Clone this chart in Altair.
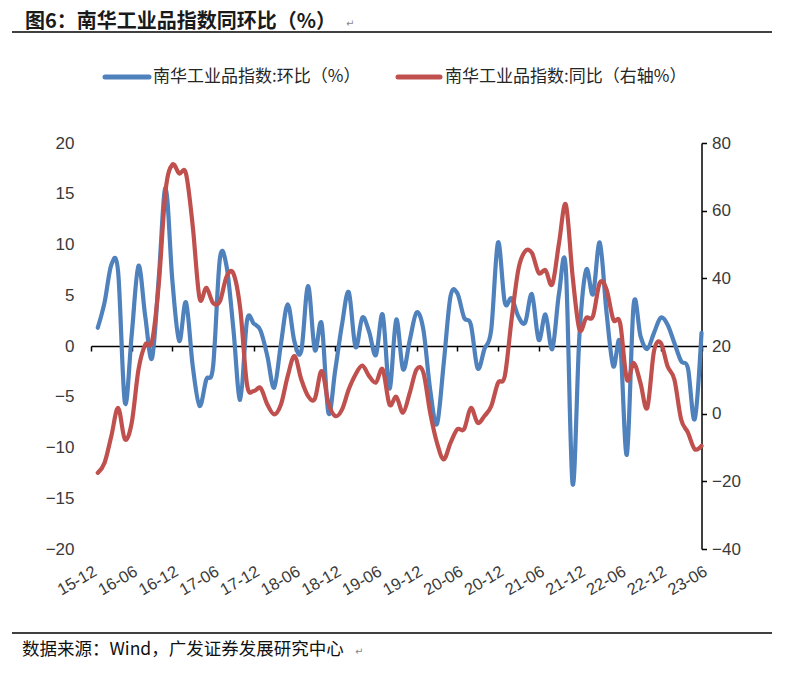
import json
import altair as alt
import pandas as pd

# ---------------- data ----------------
series_names = ["南华工业品指数:环比（%）", "南华工业品指数:同比（右轴%）"]
series_colors = ["#4f81bd", "#c0504d"]

# month categories 15-12 ... 23-06
months = []
yy, mm = 2015, 12
for _ in range(91):
    months.append(f"{yy % 100:02d}-{mm:02d}")
    mm += 1
    if mm > 12:
        mm = 1
        yy += 1

tick_labels = ["15-12", "16-06", "16-12", "17-06", "17-12", "18-06", "18-12", "19-06",
               "19-12", "20-06", "20-12", "21-06", "21-12", "22-06", "22-12", "23-06"]

# 环比 (%), 16-01 ... 23-06
mom = [1.8, 4.3, 8.0, 7.3, -5.6, 1.1, 7.9, 2.9, -1.2, 6.8,
       15.6, 6.4, 0.5, 4.3, -2.0, -5.9, -3.3, -2.0, 8.6, 7.8,
       1.6, -5.3, 2.5, 2.2, 1.5, -1.0, -4.1, 0.2, 4.1, 0.4,
       -0.5, 5.9, -0.4, 2.2, -6.6, -2.4, 2.1, 5.3, -0.1, 2.8,
       1.4, -0.9, 3.1, -4.2, 2.6, -2.3, 0.6, 3.3, 1.6, -4.3,
       -7.7, -1.7, 4.9, 5.2, 2.8, 2.1, -2.2, -0.3, 1.6, 10.2,
       4.3, 4.7, 2.9, 2.3, 5.1, 0.6, 3.1, -0.3, 5.2, 7.6,
       -13.6, 1.0, 7.5, 5.1, 10.2, 3.3, -2.0, 0.3, -10.7, 4.1,
       1.0, -0.3, 1.3, 2.8, 2.1, 0.3, -1.5, -2.2, -7.2, 1.3]

# 同比 (%), 16-01 ... 23-06
yoy = [-17.5, -14.5, -6.6, 1.7, -7.6, -2.7, 13.0, 20.4, 21.4, 38.5,
       66.0, 73.6, 71.0, 71.0, 55.4, 34.2, 37.2, 32.7, 33.2, 40.6,
       41.4, 31.0, 8.6, 6.7, 7.6, 2.7, -0.2, 2.7, 11.1, 17.0,
       10.1, 5.2, 4.4, 12.6, 3.2, -0.7, 1.2, 7.2, 11.6, 14.2,
       11.1, 9.2, 13.1, 2.7, 5.0, 0.3, 6.2, 13.1, 12.1, 0.3,
       -8.6, -13.5, -8.6, -4.6, -4.6, 1.7, -2.7, -0.7, 2.2, 9.1,
       11.1, 27.8, 42.6, 48.0, 47.5, 41.6, 42.4, 38.2, 50.5, 61.8,
       40.6, 24.9, 28.3, 28.8, 38.7, 36.7, 27.8, 26.8, 10.1, 15.0,
       9.1, 1.7, 18.5, 20.9, 14.0, 10.1, -1.7, -5.6, -10.5, -9.5]

left_ticks = [-20, -15, -10, -5, 0, 5, 10, 15, 20]
right_ticks = [-40, -20, 0, 20, 40, 60, 80]

df = pd.DataFrame({
    "idx": list(range(1, 91)),
    "month": months[1:],
    "mom": mom,
    "yoy": yoy,
})

# ---------------- layout ----------------
W, H = 610.5, 406
CJK = "Noto Sans CJK SC"
LAT = "Liberation Sans"
AX = "#3a3a3a"

x_tick_idx = [months.index(t) for t in tick_labels]
label_expr = json.dumps(tick_labels) + "[round(datum.value / 6)]"
xscale = alt.Scale(domain=[0, len(months) - 1], nice=False, zero=False)

line_kw = dict(strokeWidth=4.2, interpolate="cardinal", strokeCap="round", strokeJoin="round")

blue = alt.Chart(df).mark_line(color=series_colors[0], **line_kw).encode(
    x=alt.X("idx:Q", scale=xscale,
            axis=alt.Axis(values=x_tick_idx, labelExpr=label_expr, labelAngle=-30,
                          labelAlign="right", labelBaseline="top", labelPadding=14,
                          labelOverlap=False, labelBound=False, labelFlush=False,
                          domain=False, ticks=False, tickSize=0, grid=False, title=None,
                          labelFont=LAT, labelFontSize=16.5, labelColor=AX)),
    y=alt.Y("mom:Q", scale=alt.Scale(domain=[-20, 20], nice=False),
            axis=alt.Axis(orient="left", values=left_ticks, domain=False, ticks=False,
                          labelPadding=17, grid=False, title=None,
                          labelFont=LAT, labelFontSize=17, labelColor=AX)),
)

red = alt.Chart(df).mark_line(color=series_colors[1], **line_kw).encode(
    x=alt.X("idx:Q", scale=xscale,
            axis=alt.Axis(orient="bottom", offset=-H / 2, values=x_tick_idx, labels=False,
                          domain=True, domainColor="black", domainWidth=1.5,
                          ticks=True, tickColor="black", tickSize=5, tickWidth=1.5,
                          grid=False, title=None)),
    y=alt.Y("yoy:Q", scale=alt.Scale(domain=[-40, 80], nice=False),
            axis=alt.Axis(orient="right", values=right_ticks,
                          domainColor="black", domainWidth=1.5,
                          tickColor="black", tickSize=5, tickWidth=1.5,
                          labelPadding=5, grid=False, title=None,
                          labelFont=LAT, labelFontSize=17, labelColor=AX)),
)

deco = pd.DataFrame({"k": [0]})


def text_layer(txt, x, y, size, weight="normal", color="#1a1a1a", font=CJK):
    return alt.Chart(deco).mark_text(
        text=txt, align="left", baseline="middle", fontSize=size,
        fontWeight=weight, font=font, color=color
    ).encode(x=alt.value(x), y=alt.value(y))


def hline(x1, x2, y, color, width, cap="butt"):
    return alt.Chart(deco).mark_rule(color=color, strokeWidth=width, strokeCap=cap).encode(
        x=alt.value(x1), x2=alt.value(x2), y=alt.value(y))


decor = [
    text_layer("图6：南华工业品指数同环比（%）", -66, -121, 20, weight="bold"),
    text_layer("↵", 255, -119, 10, color="#888888", font="DejaVu Sans"),
    hline(-79, 681, -111, "black", 1.3),
    hline(14, 58, -66, series_colors[0], 5, cap="round"),
    text_layer(series_names[0], 62, -66, 17, color="#262626"),
    hline(307, 349, -66, series_colors[1], 5, cap="round"),
    text_layer(series_names[1], 354, -66, 17, color="#262626"),
    hline(-79, 681, 490, "black", 1.3),
    text_layer("数据来源：Wind，广发证券发展研究中心", -69, 507, 17.5, color="#111111"),
    text_layer("↵", 264, 509, 10, color="#888888", font="DejaVu Sans"),
]

chart = alt.layer(blue, red, *decor).resolve_scale(
    y="independent"
).resolve_axis(
    x="independent"
).properties(
    width=W, height=H,
    autosize=alt.AutoSizeParams(type="none"),
    padding={"left": 83, "top": 135, "right": 77.5, "bottom": 121},
    background="white",
).configure_view(stroke=None)

chart.save("out.html", embed_options={"renderer": "svg", "actions": False})
